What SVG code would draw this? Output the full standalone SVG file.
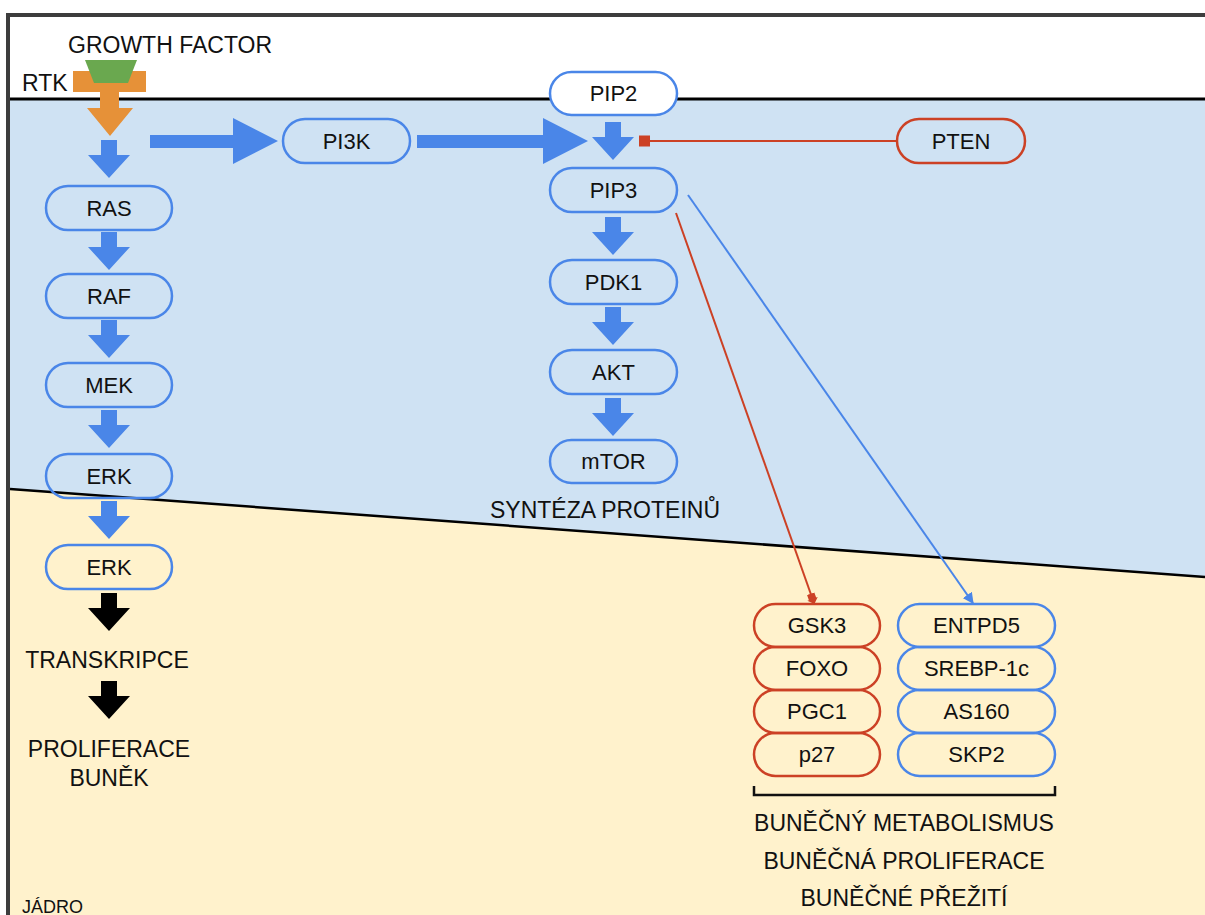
<svg xmlns="http://www.w3.org/2000/svg" width="1205" height="915" viewBox="0 0 1205 915">
<style>
text{font-family:"Liberation Sans",Arial,sans-serif;fill:#111}
.n{font-size:22px;text-anchor:middle}
.l{font-size:23px}
.c{text-anchor:middle}
.bn{fill:none;stroke:#4a86e8;stroke-width:2.5}
.rn{fill:none;stroke:#cc4125;stroke-width:2.5}
.ba{fill:#4a86e8}
.ka{fill:#000}
</style>
<defs>
<path id="da" d="M-8 0H8V15H21L0 38L-21 15H-8Z"/>
<marker id="mb" viewBox="0 0 10 10" refX="9" refY="5" markerWidth="5.5" markerHeight="5.5" orient="auto" markerUnits="strokeWidth"><path d="M0 0L10 5L0 10Z" fill="#4a86e8"/></marker>
<marker id="mr" viewBox="0 0 10 10" refX="9" refY="5" markerWidth="5.5" markerHeight="5.5" orient="auto" markerUnits="strokeWidth"><path d="M0 1.5H5V0L10 5L5 10V8.5H0Z" fill="#cc4125"/></marker>
</defs>
<rect x="0" y="0" width="1205" height="915" fill="#fff"/>
<g id="regions">
<polygon points="10,99 1205,99 1205,577 10,489" fill="#cfe2f3"/>
<polygon points="10,489 1205,577 1205,915 10,915" fill="#fff2cc"/>
<line x1="8" y1="99" x2="1205" y2="99" stroke="#000" stroke-width="3"/>
<line x1="10" y1="489" x2="1205" y2="577" stroke="#000" stroke-width="2.5"/>
<path d="M8 915V15H1205" fill="none" stroke="#3d3d3d" stroke-width="4"/>
</g>
<g id="rtk">
<rect x="73" y="71" width="73" height="21" fill="#e69138"/>
<path d="M100 92H119V108H133L110 136L87 108H100Z" fill="#e69138"/>
<polygon points="85,60 137,60 128,83 94,83" fill="#6aa84f"/>
<text class="l" x="68" y="53">GROWTH FACTOR</text>
<text class="l" x="22" y="91">RTK</text>
</g>
<g id="connectors">
<use href="#da" x="109" y="140" class="ba"/>
<use href="#da" x="109" y="232" class="ba"/>
<use href="#da" x="109" y="320" class="ba"/>
<use href="#da" x="109" y="410" class="ba"/>
<use href="#da" x="109" y="501" class="ba"/>
<use href="#da" x="109" y="593" class="ka"/>
<use href="#da" x="109" y="681" class="ka"/>
<use href="#da" x="613" y="122" class="ba"/>
<use href="#da" x="613" y="217" class="ba"/>
<use href="#da" x="613" y="307" class="ba"/>
<use href="#da" x="613" y="398" class="ba"/>
<path d="M150 135H233V118L278 141L233 164V148H150Z" class="ba"/>
<path d="M417 135H543V118L588 141L543 164V148H417Z" class="ba"/>
<line x1="897" y1="141" x2="648" y2="141" stroke="#cc4125" stroke-width="2"/>
<rect x="639" y="135.5" width="11" height="11" fill="#cc4125"/>
<line x1="676" y1="213" x2="814" y2="603" stroke="#cc4125" stroke-width="2" marker-end="url(#mr)"/>
<line x1="688" y1="195" x2="973" y2="603" stroke="#4a86e8" stroke-width="2" marker-end="url(#mb)"/>
<path d="M754 786V795H1055V786" fill="none" stroke="#111" stroke-width="2.5"/>
</g>
<g id="n-ras"><rect class="bn" x="46" y="186" width="126" height="44" rx="22"/><text class="n" x="109" y="216">RAS</text></g>
<g id="n-raf"><rect class="bn" x="46" y="274" width="126" height="44" rx="22"/><text class="n" x="109" y="304">RAF</text></g>
<g id="n-mek"><rect class="bn" x="46" y="363" width="126" height="44" rx="22"/><text class="n" x="109" y="393">MEK</text></g>
<g id="n-erk1"><rect class="bn" x="46" y="454" width="126" height="44" rx="22"/><text class="n" x="109" y="484">ERK</text></g>
<g id="n-erk2"><rect class="bn" x="46" y="545" width="126" height="44" rx="22"/><text class="n" x="109" y="575">ERK</text></g>
<g id="n-pi3k"><rect class="bn" x="283" y="119" width="127" height="44" rx="22"/><text class="n" x="346.5" y="149">PI3K</text></g>
<g id="n-pip2"><rect class="bn" x="550" y="72" width="127" height="43" rx="21.5" style="fill:#fff"/><text class="n" x="613.5" y="101">PIP2</text></g>
<g id="n-pip3"><rect class="bn" x="550" y="168" width="127" height="44" rx="22"/><text class="n" x="613.5" y="198">PIP3</text></g>
<g id="n-pdk1"><rect class="bn" x="550" y="260" width="127" height="44" rx="22"/><text class="n" x="613.5" y="290">PDK1</text></g>
<g id="n-akt"><rect class="bn" x="550" y="350" width="127" height="44" rx="22"/><text class="n" x="613.5" y="380">AKT</text></g>
<g id="n-mtor"><rect class="bn" x="550" y="440" width="127" height="43" rx="21.5"/><text class="n" x="613.5" y="469">mTOR</text></g>
<g id="n-pten"><rect class="rn" x="897" y="119" width="128" height="44" rx="22"/><text class="n" x="961" y="149">PTEN</text></g>
<g id="n-gsk3"><rect class="rn" x="754" y="604" width="126" height="43" rx="21.5"/><text class="n" x="817" y="633">GSK3</text></g>
<g id="n-foxo"><rect class="rn" x="754" y="647" width="126" height="43" rx="21.5"/><text class="n" x="817" y="676">FOXO</text></g>
<g id="n-pgc1"><rect class="rn" x="754" y="690" width="126" height="43" rx="21.5"/><text class="n" x="817" y="719">PGC1</text></g>
<g id="n-p27"><rect class="rn" x="754" y="733" width="126" height="43" rx="21.5"/><text class="n" x="817" y="762">p27</text></g>
<g id="n-entpd5"><rect class="bn" x="898" y="604" width="157" height="43" rx="21.5"/><text class="n" x="976.5" y="633">ENTPD5</text></g>
<g id="n-srebp"><rect class="bn" x="898" y="647" width="157" height="43" rx="21.5"/><text class="n" x="976.5" y="676">SREBP-1c</text></g>
<g id="n-as160"><rect class="bn" x="898" y="690" width="157" height="43" rx="21.5"/><text class="n" x="976.5" y="719">AS160</text></g>
<g id="n-skp2"><rect class="bn" x="898" y="733" width="157" height="43" rx="21.5"/><text class="n" x="976.5" y="762">SKP2</text></g>
<g id="labels">
<text class="l c" x="605" y="518">SYNTÉZA PROTEINŮ</text>
<text class="l c" x="107" y="668">TRANSKRIPCE</text>
<text class="l c" x="109" y="757">PROLIFERACE</text>
<text class="l c" x="109" y="786">BUNĚK</text>
<text class="l c" x="904" y="831">BUNĚČNÝ METABOLISMUS</text>
<text class="l c" x="904" y="869">BUNĚČNÁ PROLIFERACE</text>
<text class="l c" x="904" y="906">BUNĚČNÉ PŘEŽITÍ</text>
<text x="22" y="913" style="font-size:18px">JÁDRO</text>
</g>
</svg>
